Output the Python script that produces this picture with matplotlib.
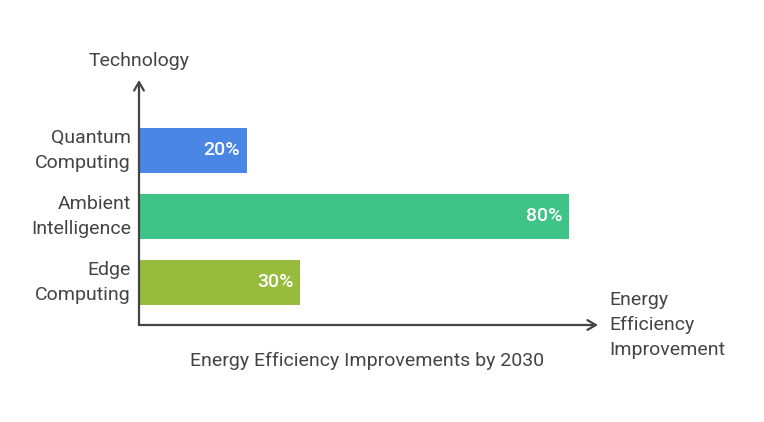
import matplotlib.pyplot as plt

plt.rcParams['font.family'] = ['Roboto', 'DejaVu Sans']

technologies = ['Edge\nComputing', 'Ambient\nIntelligence', 'Quantum\nComputing']
improvements = [30, 80, 20]
bar_colors = ['#96bb3d', '#3ec486', '#4a86e4']
value_labels = ['30%', '80%', '20%']

W, H = 764, 422
fig = plt.figure(figsize=(W / 100, H / 100), dpi=100)

# axes placed in pixel terms: origin at (139, 325), arrows end at x=598 / y=80
x0, x1, y_top, y_bot = 139, 598, 80, 325
ax = fig.add_axes([x0 / W, 1 - y_bot / H, (x1 - x0) / W, (y_bot - y_top) / H])

px_per_pct = 5.38
ax.set_xlim(0, (x1 - x0) / px_per_pct)
ax.set_ylim(-0.644, 3.068)

fs = 14
txt_col = '#444444'

ypos = range(len(technologies))
ax.barh(ypos, improvements, height=0.68, color=bar_colors, zorder=2)

for y, v, lab in zip(ypos, improvements, value_labels):
    ax.text(v - 1.3, y, lab, ha='right', va='center', color='white',
            fontsize=fs, fontweight='medium', zorder=3)
    ax.text(-1.5, y, technologies[y], ha='right', va='center', color=txt_col,
            fontsize=fs, linespacing=1.5)

for s in ax.spines.values():
    s.set_visible(False)
ax.set_xticks([])
ax.set_yticks([])

axis_col = '#444444'
ax.annotate('', xy=(1, 0), xytext=(0, 0), xycoords='axes fraction',
            arrowprops=dict(arrowstyle='->,head_length=0.6,head_width=0.35',
                            color=axis_col, lw=1.6, shrinkA=0, shrinkB=0))
ax.annotate('', xy=(0, 1), xytext=(0, 0), xycoords='axes fraction',
            arrowprops=dict(arrowstyle='->,head_length=0.6,head_width=0.35',
                            color=axis_col, lw=1.6, shrinkA=0, shrinkB=0))

fig.text(139 / W, 1 - 61 / H, 'Technology', ha='center', va='center',
         fontsize=fs, color=txt_col)
fig.text(609 / W, 1 - 325 / H, 'Energy\nEfficiency\nImprovement', ha='left',
         va='center', fontsize=fs, color=txt_col, linespacing=1.5)
fig.text(367 / W, 1 - 361 / H, 'Energy Efficiency Improvements by 2030',
         ha='center', va='center', fontsize=fs, color=txt_col)

fig.savefig('out.png', dpi=100, facecolor='white')
